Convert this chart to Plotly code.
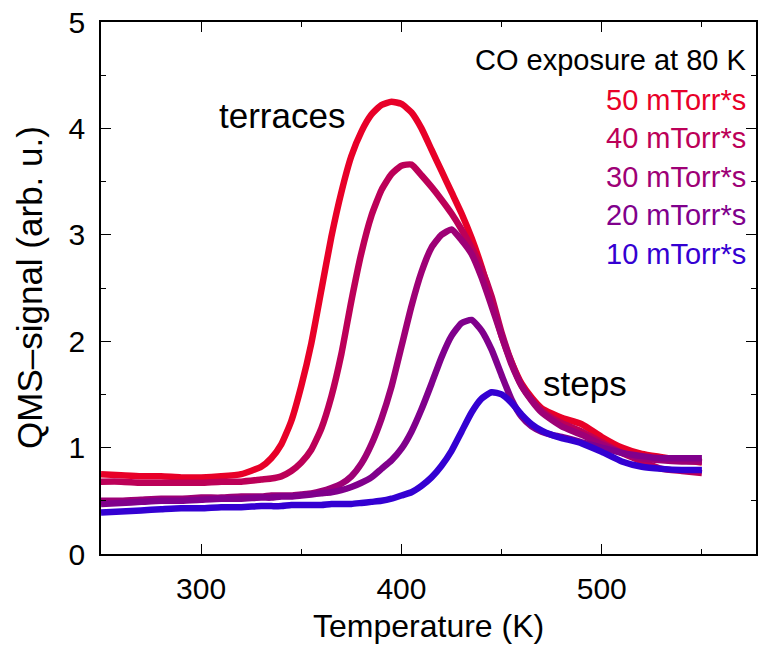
import plotly.graph_objects as go

# Temperature grid (K) shared by all TPD traces
temperature = [250, 260, 270, 280, 290, 300, 310, 320, 330, 335, 340, 345, 350, 355, 360,
               365, 370, 375, 380, 385, 390, 395, 400, 405, 410, 415, 420, 425, 430, 435,
               440, 445, 450, 455, 460, 465, 470, 475, 480, 490, 500, 510, 520, 530, 540, 550]

# QMS signal (arb. u.) for each CO exposure
sig_50 = [0.75, 0.74, 0.73, 0.73, 0.72, 0.72, 0.73, 0.75, 0.82, 0.90, 1.03, 1.25, 1.58, 1.98, 2.48,
          2.98, 3.40, 3.74, 3.97, 4.13, 4.22, 4.25, 4.23, 4.15, 4.00, 3.80, 3.60, 3.40, 3.20, 2.97,
          2.70, 2.38, 2.05, 1.80, 1.60, 1.47, 1.37, 1.32, 1.28, 1.22, 1.10, 1.00, 0.94, 0.91, 0.88, 0.86]
sig_40 = [0.68, 0.68, 0.67, 0.67, 0.67, 0.67, 0.68, 0.68, 0.70, 0.71, 0.73, 0.78, 0.86, 0.98, 1.18,
          1.48, 1.88, 2.38, 2.83, 3.18, 3.42, 3.57, 3.65, 3.66, 3.56, 3.45, 3.33, 3.20, 3.05, 2.88,
          2.68, 2.42, 2.08, 1.80, 1.58, 1.45, 1.35, 1.28, 1.23, 1.15, 1.05, 0.95, 0.87, 0.80, 0.78, 0.76]
sig_30 = [0.50, 0.50, 0.51, 0.52, 0.52, 0.53, 0.53, 0.54, 0.54, 0.55, 0.55, 0.55, 0.56, 0.57, 0.59,
          0.62, 0.66, 0.73, 0.85, 1.03, 1.27, 1.57, 1.95, 2.33, 2.65, 2.88, 3.00, 3.05, 2.95, 2.82,
          2.60, 2.33, 2.05, 1.78, 1.58, 1.44, 1.33, 1.26, 1.20, 1.12, 1.03, 0.95, 0.90, 0.88, 0.87, 0.87]
sig_20 = [0.47, 0.48, 0.49, 0.50, 0.50, 0.51, 0.52, 0.52, 0.53, 0.53, 0.54, 0.54, 0.55, 0.56, 0.57,
          0.58, 0.60, 0.63, 0.67, 0.72, 0.80, 0.88, 0.99, 1.15, 1.36, 1.60, 1.85, 2.05, 2.17, 2.20,
          2.10, 1.92, 1.68, 1.45, 1.29, 1.20, 1.15, 1.12, 1.10, 1.05, 1.00, 0.95, 0.92, 0.90, 0.90, 0.90]
sig_10 = [0.39, 0.40, 0.41, 0.42, 0.43, 0.43, 0.44, 0.44, 0.45, 0.45, 0.45, 0.46, 0.46, 0.46, 0.46,
          0.47, 0.47, 0.47, 0.48, 0.49, 0.50, 0.52, 0.55, 0.58, 0.64, 0.72, 0.83, 0.97, 1.15, 1.33,
          1.46, 1.52, 1.50, 1.42, 1.31, 1.22, 1.16, 1.12, 1.09, 1.04, 0.96, 0.87, 0.82, 0.80, 0.79, 0.79]

exposure_labels = ["50 mTorr*s", "40 mTorr*s", "30 mTorr*s", "20 mTorr*s", "10 mTorr*s"]
series = [sig_50, sig_40, sig_30, sig_20, sig_10]
colors = ["rgb(232,0,40)", "rgb(188,0,88)", "rgb(158,0,118)", "rgb(128,0,140)", "rgb(52,0,210)"]

FONT = "Liberation Sans, Arial, Helvetica, sans-serif"

fig = go.Figure()
for lab, ys, col in zip(exposure_labels, series, colors):
    fig.add_trace(go.Scatter(
        x=temperature, y=ys, mode="lines", name=lab,
        line=dict(color=col, width=6.5, shape="spline", smoothing=0.5),
        showlegend=False,
    ))

axis_common = dict(
    showline=True, linecolor="black", linewidth=1.5, mirror="ticks",
    ticks="inside", ticklen=10, tickwidth=1.2, tickcolor="black",
    showgrid=False, zeroline=False,
    tickfont=dict(family=FONT, size=30, color="black"),
)

fig.update_xaxes(range=[250, 577], tickvals=[300, 400, 500],
                 minor=dict(ticks="inside", ticklen=5, tickwidth=1.2, tickcolor="black",
                            tickvals=[350, 450, 550], showgrid=False),
                 ticklabelstandoff=7, **axis_common)
fig.update_yaxes(range=[0, 5], tickvals=[0, 1, 2, 3, 4, 5],
                 minor=dict(ticks="inside", ticklen=5, tickwidth=1.2, tickcolor="black",
                            tickvals=[0.5, 1.5, 2.5, 3.5, 4.5], showgrid=False),
                 ticklabelstandoff=8, **axis_common)

annotations = [
    dict(text="Temperature (K)", xref="paper", yref="paper", x=0.5, y=0,
         yshift=-72, xanchor="center", yanchor="middle", showarrow=False,
         font=dict(family=FONT, size=32, color="black")),
    dict(text="QMS\u2013signal (arb. u.)", xref="paper", yref="paper", x=0, y=0.5,
         xshift=-72, xanchor="center", yanchor="middle", textangle=-90, showarrow=False,
         font=dict(family=FONT, size=35, color="black")),
    dict(text="terraces", x=340.5, y=4.12, xanchor="center", yanchor="middle",
         showarrow=False, font=dict(family=FONT, size=35, color="black")),
    dict(text="steps", x=491.5, y=1.6, xanchor="center", yanchor="middle",
         showarrow=False, font=dict(family=FONT, size=35, color="black")),
    dict(text="CO exposure at 80 K", x=572.8, y=(554 - 60) / 106.4, xanchor="right",
         yanchor="middle", showarrow=False, font=dict(family=FONT, size=29, color="black")),
]
legend_y = [100, 138, 177, 215, 254]
for lab, col, py in zip(exposure_labels, colors, legend_y):
    annotations.append(dict(text=lab, x=572.8, y=(554 - py) / 106.4, xanchor="right",
                            yanchor="middle", showarrow=False,
                            font=dict(family=FONT, size=29, color=col)))

fig.update_layout(
    width=759, height=655,
    margin=dict(l=101, r=1, t=22, b=101),
    plot_bgcolor="white", paper_bgcolor="white",
    annotations=annotations,
)

fig.write_html("out.html")
